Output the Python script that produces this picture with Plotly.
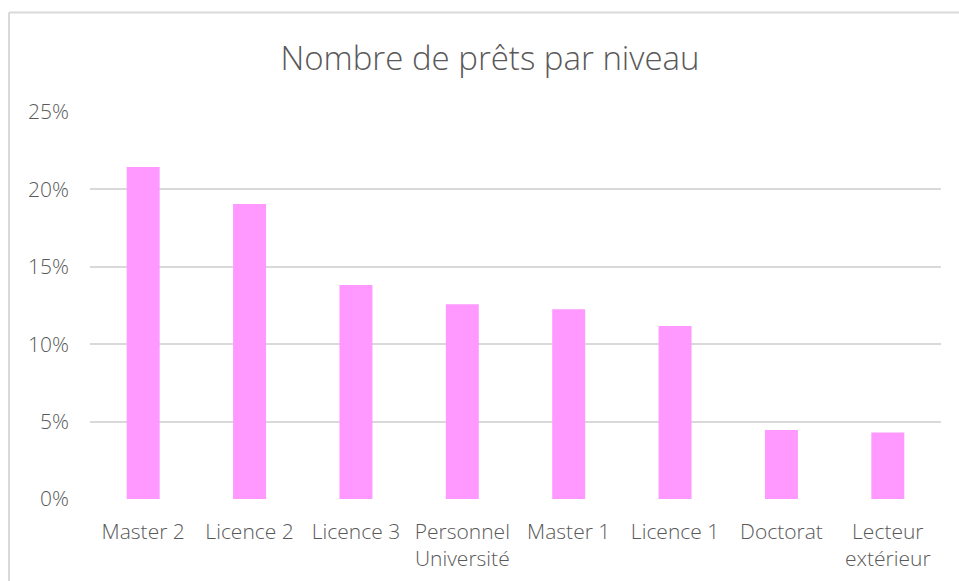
import plotly.graph_objects as go

categories = ["Master 2", "Licence 2", "Licence 3", "Personnel<br>Université", "Master 1",
              "Licence 1", "Doctorat", "Lecteur<br>extérieur"]
values = [0.2144, 0.1905, 0.1383, 0.1258, 0.1226, 0.1118, 0.0446, 0.0429]
y_ticks = [0, 0.05, 0.10, 0.15, 0.20, 0.25]
y_tick_labels = ["0%", "5%", "10%", "15%", "20%", "25%"]
title_text = "Nombre de prêts par niveau"

W, H = 959, 581
L, T = 90, 112
R, B = W - 941, H - 499
pw, ph = W - L - R, H - T - B

FONT = "Open Sans"
GREY = "#595959"

fig = go.Figure(go.Bar(
    x=categories, y=values,
    marker=dict(color="#FF99FF", line=dict(width=0)),
    width=0.31,
))

bx = (9 - L) / pw
by = (H - B - 12.5) / ph

fig.update_layout(
    width=W, height=H,
    margin=dict(l=L, r=R, t=T, b=B),
    paper_bgcolor="white", plot_bgcolor="white",
    showlegend=False,
    title=dict(text=title_text, x=490 / W, xref="container", xanchor="center",
               y=1 - 58 / H, yref="container", yanchor="middle",
               font=dict(family=FONT, size=33, color=GREY, weight=300)),
    xaxis=dict(showgrid=False, showline=False, zeroline=False, ticks="",
               automargin=False,
               tickfont=dict(family=FONT, size=21, color=GREY, weight=300),
               ticklabelstandoff=18),
    yaxis=dict(range=[0, 0.25], tickvals=y_ticks, ticktext=y_tick_labels,
               automargin=False,
               showgrid=True, gridcolor="#d9d9d9", gridwidth=1.6,
               zeroline=False, showline=False, ticks="",
               tickfont=dict(family=FONT, size=21, color=GREY, weight=300),
               ticklabelstandoff=20),
    shapes=[
        dict(type="line", xref="paper", yref="paper", x0=bx, x1=bx, y0=-1, y1=by,
             line=dict(color="#d9d9d9", width=2)),
        dict(type="line", xref="paper", yref="paper", x0=bx, x1=2, y0=by, y1=by,
             line=dict(color="#d9d9d9", width=2)),
    ],
)

fig.write_html(
    "out.html",
    config={"displayModeBar": False},
    post_script="document.body.style.margin='0';document.body.style.overflow='hidden';",
)
